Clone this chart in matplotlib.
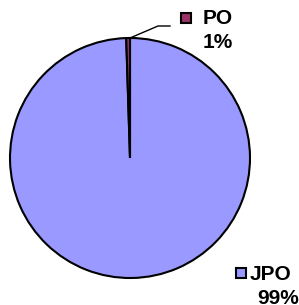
import matplotlib.pyplot as plt
from matplotlib.patches import Rectangle

# Share of cases
labels = ['JPO', 'PO']
values = [99.5, 0.5]
pct_labels = ['99%', '1%']
colors = ['#9999FF', '#993366']

W, H = 299, 305
fig = plt.figure(figsize=(W / 100, H / 100), dpi=100)

# pie centred at (130, 158) px, radius 120 px
cx, cy, r = 130, 158, 120
ax = fig.add_axes([(cx - r) / W, (H - cy - r) / H, 2 * r / W, 2 * r / H])
ax.pie(values, colors=colors, startangle=90, counterclock=False,
       wedgeprops=dict(edgecolor='black', linewidth=1.5))
ax.set_xlim(-1, 1)
ax.set_ylim(-1, 1)
ax.set_aspect('auto')
ax.axis('off')

# overlay axes in pixel coordinates for labels
ov = fig.add_axes([0, 0, 1, 1])
ov.set_xlim(0, W)
ov.set_ylim(H, 0)
ov.axis('off')

font = dict(family='Liberation Sans', weight='bold', fontsize=15)

# PO label with leader line
ov.plot([130, 158, 170], [38, 26, 26], color='black', lw=1)
ov.add_patch(Rectangle((181, 13), 10, 10, facecolor=colors[1], edgecolor='black', lw=1.5))
ov.text(203, 19, labels[1], ha='left', va='center', **font)
ov.text(203, 43, pct_labels[1], ha='left', va='center', **font)

# JPO label
ov.add_patch(Rectangle((236, 268), 10, 10, facecolor=colors[0], edgecolor='black', lw=1.5))
ov.text(250, 274, labels[0], ha='left', va='center', **font)
ov.text(257, 298, pct_labels[0], ha='left', va='center', **font)

fig.savefig('out.png', dpi=100)
